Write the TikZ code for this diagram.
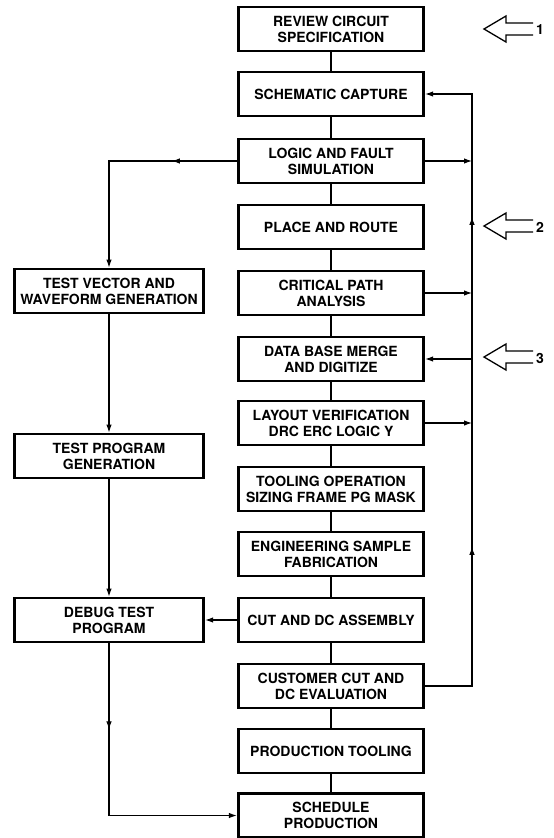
\documentclass[tikz,border=0pt]{standalone}
\usepackage{fontspec}
\setmainfont{TeX Gyre Heros}
\usetikzlibrary{arrows.meta, positioning, calc, decorations.markings}

\tikzset{
  stepbox/.style={draw, line width=2.8pt, minimum width=185.5pt, minimum height=44pt,
    inner sep=0pt, align=center, font=\fontsize{14}{16}\selectfont\bfseries},
  testbox/.style={stepbox, minimum width=189.5pt},
  link/.style={line width=1.1pt},
  flow/.style={link, -{Latex[length=8pt,width=5.5pt]}},
  midarr/.style={postaction={decorate}, decoration={markings,
    mark=at position #1 with {\arrow{Latex[length=8pt,width=5.5pt]}}}},
  twoarr/.style 2 args={postaction={decorate}, decoration={markings,
    mark=at position #1 with {\arrow{Latex[length=8pt,width=5.5pt]}},
    mark=at position #2 with {\arrow{Latex[length=8pt,width=5.5pt]}}}},
  hollow/.style={line width=1.3pt, line join=miter},
  numlabel/.style={anchor=west, inner sep=0pt, font=\fontsize{14}{16}\selectfont\bfseries}
}

\begin{document}
\begin{tikzpicture}[x=1pt, y=-1pt]
    \useasboundingbox (0,0) rectangle (554,838);

    % main column
    \node[stepbox] (rev) at (331,29) {REVIEW CIRCUIT\\SPECIFICATION};
    \node[stepbox] (sch) at (331,94) {SCHEMATIC CAPTURE};
    \node[stepbox] (lfs) at (331,161) {LOGIC AND FAULT\\SIMULATION};
    \node[stepbox] (par) at (331,227) {PLACE AND ROUTE};
    \node[stepbox] (cpa) at (331,293) {CRITICAL PATH\\ANALYSIS};
    \node[stepbox] (dbm) at (331,359) {DATA BASE MERGE\\AND DIGITIZE};
    \node[stepbox] (lay) at (331,423) {LAYOUT VERIFICATION\\DRC ERC LOGIC Y};
    \node[stepbox] (tool) at (331,489) {TOOLING OPERATION\\SIZING FRAME PG MASK};
    \node[stepbox] (eng) at (331,554) {ENGINEERING SAMPLE\\FABRICATION};
    \node[stepbox] (cut) at (331,620) {CUT AND DC ASSEMBLY};
    \node[stepbox] (cust) at (331,686) {CUSTOMER CUT AND\\DC EVALUATION};
    \node[stepbox] (prod) at (331,751) {PRODUCTION TOOLING};
    \node[stepbox] (sched) at (331,815.5) {SCHEDULE\\PRODUCTION};

    % test column
    \node[testbox] (tv) at (109,291) {TEST VECTOR AND\\WAVEFORM GENERATION};
    \node[testbox] (tpg) at (109,456) {TEST PROGRAM\\GENERATION};
    \node[testbox] (dbg) at (109,620) {DEBUG TEST\\PROGRAM};

    \coordinate (rline) at (472,0);

    \foreach \a/\b in {rev/sch, sch/lfs, lfs/par, par/cpa, cpa/dbm, dbm/lay, lay/tool,
                       tool/eng, eng/cut, cut/cust, cust/prod, prod/sched}
        \draw[link] (\a) -- (\b);

    % test branch
    \draw[flow, midarr=65pt] (lfs.west) -| (tv.north);
    \draw[flow] (tv) -- (tpg);
    \draw[flow] (tpg) -- (dbg);
    \draw[flow] (cut) -- (dbg);
    \draw[flow, midarr=86pt] (dbg.south) |- (sched.west);

    % feedback loop
    \draw[flow] (lfs.east) -- (lfs.east -| rline);
    \draw[flow] (cpa.east) -- (cpa.east -| rline);
    \draw[flow] (lay.east) -- (lay.east -| rline);
    \draw[flow] (dbm.east -| rline) -- (dbm.east);
    \draw[flow, twoarr={186pt}{516pt}] (cust.east) -| (rline |- sch.east) -- (sch.east);

    % entry points
    \foreach \y/\n in {29/1, 226/2, 357/3} {
        \draw[hollow] (533,\y-6) -- (506,\y-6) -- (506,\y-13) -- (484,\y)
            -- (506,\y+13) -- (506,\y+6) -- (533,\y+6);
        \node[numlabel] (num\n) at (536,\y+1) {\n};
    }
\end{tikzpicture}
\end{document}
